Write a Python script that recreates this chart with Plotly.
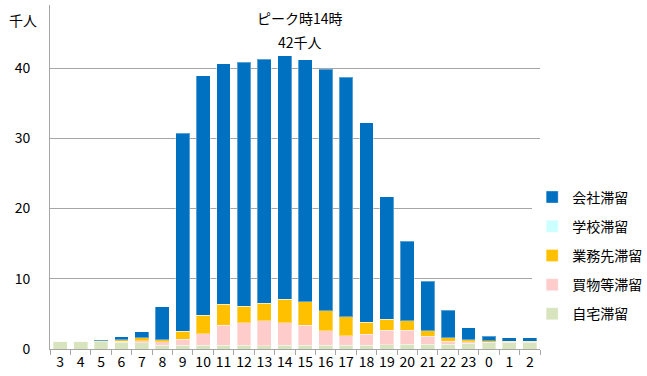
import plotly.graph_objects as go

# Hour of day (3 a.m. through 2 a.m. the next day)
hours = ["3", "4", "5", "6", "7", "8", "9", "10", "11", "12", "13", "14",
         "15", "16", "17", "18", "19", "20", "21", "22", "23", "0", "1", "2"]

# Stranded people by place (thousands)
home = [1.14, 1.14, 1.00, 0.95, 0.90, 0.57, 0.57, 0.57, 0.57, 0.57, 0.45, 0.57,
        0.57, 0.57, 0.57, 0.57, 0.60, 0.66, 0.66, 0.66, 0.80, 0.90, 0.90, 0.90]
shopping = [0.00, 0.00, 0.05, 0.14, 0.30, 0.47, 0.85, 1.63, 2.83, 3.18, 3.55, 3.18,
            2.80, 2.03, 1.33, 1.56, 2.10, 2.04, 1.19, 0.48, 0.24, 0.09, 0.07, 0.07]
business = [0.00, 0.00, 0.05, 0.24, 0.38, 0.29, 1.14, 2.60, 3.00, 2.35, 2.50, 3.35,
            3.33, 2.85, 2.70, 1.71, 1.55, 1.30, 0.75, 0.46, 0.29, 0.20, 0.17, 0.17]
school = [0.00] * 24
company = [0.00, 0.00, 0.18, 0.42, 0.90, 4.67, 28.19, 34.10, 34.25, 34.75, 34.80, 34.70,
           34.50, 34.40, 34.10, 28.36, 17.45, 11.35, 7.02, 3.95, 1.73, 0.66, 0.44, 0.44]

# Y-axis ticks
y_ticks = [0, 10, 20, 30, 40]
y_range = [0, 49]

# Peak callout
peak_lines = ["ピーク時14時", "42千人"]
unit_label = "千人"

# Legend order: top of the legend first
series = [
    ("会社滞留", company, "#0070C0"),
    ("学校滞留", school, "#CCFFFF"),
    ("業務先滞留", business, "#FFC000"),
    ("買物等滞留", shopping, "#FFCCCC"),
    ("自宅滞留", home, "#D7E4BD"),
]

font_family = "Noto Sans CJK JP"
axis_grey = "#A6A6A6"

fig = go.Figure()
# Stack from the bottom up (home first), legend lists company first
for name, vals, color in reversed(series):
    fig.add_trace(go.Bar(
        x=hours, y=vals, name=name, legendgroup=name,
        legendrank=[s[0] for s in series].index(name) + 1,
        marker=dict(color=color, line=dict(color="rgba(255,255,255,0.35)", width=1)),
    ))

annotations = [
    dict(text=line, x=0.51, y=1, xref="paper", yref="paper", yshift=-13 - 24 * i,
         xanchor="center", yanchor="middle", showarrow=False, font=dict(size=14))
    for i, line in enumerate(peak_lines)
]
annotations.append(
    dict(text=unit_label, x=0, y=1, xref="paper", yref="paper", xshift=-27,
         yshift=-15, xanchor="center", yanchor="middle", showarrow=False,
         font=dict(size=14))
)

fig.update_layout(
    width=647, height=376,
    barmode="stack", bargap=0.32,
    plot_bgcolor="white", paper_bgcolor="white",
    margin=dict(l=50, r=107, t=5, b=27, autoexpand=False),
    font=dict(family=font_family, size=14, color="#000000"),
    legend=dict(
        x=0.984, xanchor="left", y=0.272, yanchor="middle",
        traceorder="grouped", tracegroupgap=8,
        font=dict(size=14, family=font_family),
    ),
    xaxis=dict(
        type="category", showline=True, linecolor=axis_grey, linewidth=1,
        ticks="outside", tickson="boundaries", ticklen=5, tickcolor=axis_grey,
        showgrid=False, tickfont=dict(size=14), tickangle=0, automargin=False,
    ),
    # Main value axis: labels set well away from the axis line
    yaxis=dict(
        range=y_range, tickvals=y_ticks,
        showline=True, linecolor=axis_grey, linewidth=1,
        ticks="outside", ticklen=16, tickcolor="rgba(0,0,0,0)",
        showgrid=True, gridcolor=axis_grey, gridwidth=1,
        zeroline=False, tickfont=dict(size=14), automargin=False,
    ),
    # Overlay axis that only draws the short tick marks
    yaxis2=dict(
        overlaying="y", side="left", anchor="x",
        range=y_range, tickvals=y_ticks, showticklabels=False,
        ticks="outside", ticklen=5, tickcolor=axis_grey,
        showgrid=False, showline=False, zeroline=False, automargin=False,
    ),
    annotations=annotations,
)

fig.write_html("out.html")
